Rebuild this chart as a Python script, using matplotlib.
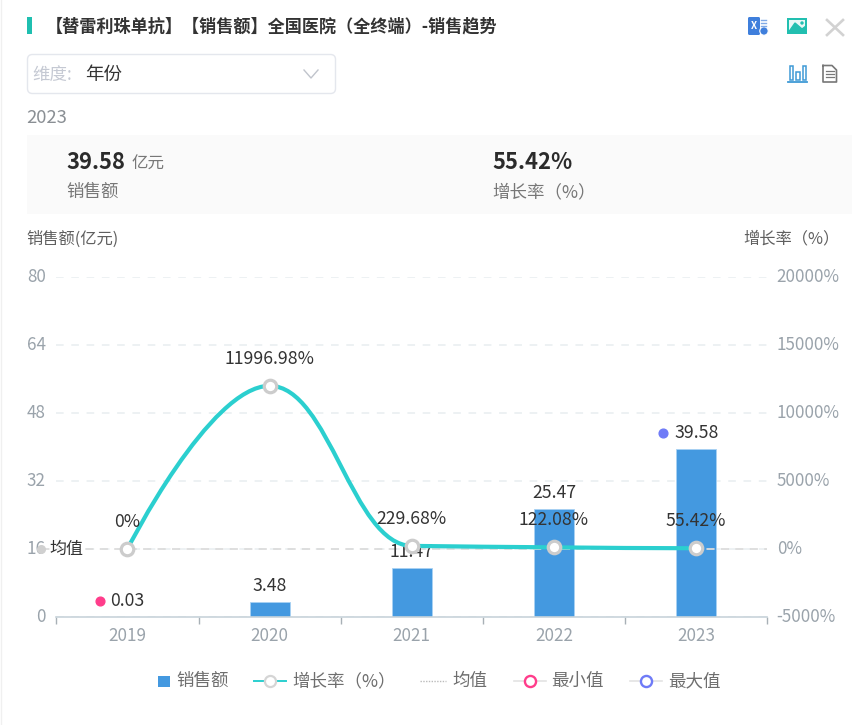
"""
Sales trend popup: bars for sales, smooth line for growth rate.
"""

import matplotlib
matplotlib.use('Agg')
import matplotlib.pyplot as plt
from matplotlib.patches import FancyBboxPatch, PathPatch, Rectangle, Circle
from matplotlib.path import Path
from matplotlib.transforms import ScaledTranslation

plt.rcParams['font.family'] = ['Noto Sans CJK SC', 'DejaVu Sans']

W, H = 866, 725

# Data
years = ['2019', '2020', '2021', '2022', '2023']
sales = [0.03, 3.48, 11.47, 25.47, 39.58]
growth = [0, 11996.98, 229.68, 122.08, 55.42]
growth_labels = ['0%', '11996.98%', '229.68%', '122.08%', '55.42%']
sales_ticks = [0, 16, 32, 48, 64, 80]
growth_ticks = [-5000, 0, 5000, 10000, 15000, 20000]

# Colors
c_bar = '#4499e0'
c_line = '#2bcfcf'
c_tick = '#9aa3ab'
c_text = '#333333'
c_legend = '#6e6e6e'
c_grid = '#e8eef0'
c_axis = '#c8d3da'
c_pink = '#ff3d8b'
c_blue = '#6f7bf7'

PX = 0.72  # px -> pt at dpi 100
FS_TICK = 17 * PX
FS_VAL = 17.7 * PX
FS_LEG = 17.5 * PX

fig = plt.figure(figsize=(W / 100, H / 100), dpi=100, facecolor='white')

# Overlay in pixel coordinates for the popup furniture
ui = fig.add_axes([0, 0, 1, 1], zorder=0)
ui.set_xlim(0, W)
ui.set_ylim(H, 0)
ui.axis('off')

ax = fig.add_axes([56.3 / W, (H - 617) / H, 711 / W, 340 / H], zorder=2)
ax.patch.set_alpha(0)
ax2 = ax.twinx()
ax2.patch.set_alpha(0)

x = list(range(len(years)))

# ---- bars on the left axis
ax.bar(x, sales, width=0.281, color=c_bar, edgecolor='#a9d2f3', linewidth=0.6, zorder=2)
ax.set_xlim(-0.5, len(years) - 0.5)
ax.set_ylim(sales_ticks[0], sales_ticks[-1])
ax.set_yticks(sales_ticks)
ax.set_xticks(x)
ax.set_xticklabels(years)
ax.set_xticks([i - 0.5 for i in range(len(years) + 1)], minor=True)
ax.tick_params(axis='x', which='major', length=0, pad=7, labelsize=FS_TICK, labelcolor=c_tick)
ax.tick_params(axis='x', which='minor', length=5, color='#a8b0b6', width=1)
ax.tick_params(axis='y', length=0, pad=7.5, labelsize=FS_TICK, labelcolor=c_tick)
ax.yaxis.grid(True, color=c_grid, linestyle=(0, (5, 5)), linewidth=1.1)
ax.set_axisbelow(True)
for s in ['top', 'left', 'right']:
    ax.spines[s].set_visible(False)
ax.spines['bottom'].set_color(c_axis)
ax.spines['bottom'].set_linewidth(1.2)

# ---- mean line, drawn out past the axis to its label
mean_sales = sum(sales) / len(sales)
ax.plot([-0.6, len(years) - 0.5], [mean_sales, mean_sales], color='#dcdcdc',
        linestyle=(0, (4.5, 3.5)), linewidth=1.3, clip_on=False, zorder=3)
ax.plot([-0.605], [mean_sales], 'o', color='#d0d0d0', ms=5.5, clip_on=False, zorder=3)
ax.annotate('均值', (-0.5, mean_sales), xytext=(-5, 0), textcoords='offset points',
            ha='left', va='center', fontsize=17 * PX, color=c_text, zorder=6,
            bbox=dict(facecolor='white', edgecolor='none', alpha=0.55, pad=0.5),
            annotation_clip=False)

# ---- growth line on the right axis, smooth beziers through the points
ax2.set_ylim(growth_ticks[0], growth_ticks[-1])
ax2.set_yticks(growth_ticks)
ax2.set_yticklabels([f'{t}%' for t in growth_ticks])
ax2.tick_params(axis='y', length=0, pad=6.8, labelsize=FS_TICK, labelcolor=c_tick)
for s in ax2.spines.values():
    s.set_visible(False)

# tick labels sit a little above their gridlines
up = ScaledTranslation(0, 2 / 100, fig.dpi_scale_trans)
for lab in ax.get_yticklabels() + ax2.get_yticklabels():
    lab.set_transform(lab.get_transform() + up)


def smooth_path(xs, ys, k=0.42):
    # monotone tangents: flat at extremes, small where one side is nearly level
    n = len(xs)
    slopes = [0.0] * n
    for i in range(1, n - 1):
        d0 = ys[i] - ys[i - 1]
        d1 = ys[i + 1] - ys[i]
        if d0 * d1 > 0:
            slopes[i] = min(abs(d0), abs(d1)) * (1 if d0 > 0 else -1)
    verts = [(xs[0], ys[0])]
    codes = [Path.MOVETO]
    for i in range(n - 1):
        # the first control point of the line stays on its start point
        c1 = (xs[i], ys[i]) if i == 0 else (xs[i] + k, ys[i] + slopes[i] * k)
        c2 = (xs[i + 1] - k, ys[i + 1] - slopes[i + 1] * k)
        verts += [c1, c2, (xs[i + 1], ys[i + 1])]
        codes += [Path.CURVE4, Path.CURVE4, Path.CURVE4]
    return Path(verts, codes)


ax2.add_patch(PathPatch(smooth_path(x, growth), facecolor='none', edgecolor=c_line,
                        linewidth=3, zorder=4))
ax2.plot(x, growth, linestyle='none', marker='o', ms=9, mfc='white', mec='#cccccc',
         mew=2.3, zorder=5)

# ---- value labels
bar_offsets = {1: 5, 2: 5, 3: 5}
for i, off in bar_offsets.items():
    ax.annotate(f'{sales[i]:.2f}', (x[i], sales[i]), xytext=(0, off), textcoords='offset points',
                ha='center', va='bottom', fontsize=FS_VAL, color=c_text, zorder=3)
for i, lab in enumerate(growth_labels):
    ax2.annotate(lab, (x[i], growth[i]), xytext=(0, 13), textcoords='offset points',
                 ha='center', va='bottom', fontsize=FS_VAL, color=c_text, zorder=7)

# min / max points sit beside the bar tops
i_min = sales.index(min(sales))
i_max = sales.index(max(sales))
ax.plot([x[i_min] - 0.19], [sales[i_min] + 3.7], 'o', color=c_pink, ms=6.3, zorder=6, clip_on=False)
ax.annotate(f'{sales[i_min]:.2f}', (x[i_min], sales[i_min] + 3.7), xytext=(0, 0),
            textcoords='offset points', ha='center', va='center', fontsize=FS_VAL, color=c_text)
ax.plot([x[i_max] - 0.23], [sales[i_max] + 3.7], 'o', color=c_blue, ms=6.3, zorder=6, clip_on=False)
ax.annotate(f'{sales[i_max]:.2f}', (x[i_max], sales[i_max] + 3.7), xytext=(0, 0),
            textcoords='offset points', ha='center', va='center', fontsize=FS_VAL, color=c_text)

# ============================================================
# Popup furniture
# ============================================================
ui.plot([0.5, 0.5], [0, H], color='#f0f0f0', linewidth=1)
ui.add_patch(Rectangle((27, 17), 5, 17, facecolor='#1fbfb0', edgecolor='none'))
ui.text(46, 26, '【替雷利珠单抗】【销售额】全国医院（全终端）-销售趋势', fontsize=17.1 * PX,
        fontweight='bold', color='#333333', va='center', ha='left')

# select box
ui.add_patch(FancyBboxPatch((27.5, 54.5), 308, 39, boxstyle='round,pad=0,rounding_size=5',
                            facecolor='white', edgecolor='#e4e7ed', linewidth=1))
ui.text(32, 75, '维度:', fontsize=17.5 * PX, color='#c5c9d3', va='center', ha='left')
ui.text(85, 75, '年份', fontsize=18.5 * PX, color='#333333', va='center', ha='left')
ui.plot([304, 311, 318], [70, 78, 70], color='#c0c4cc', linewidth=1)

ui.text(26, 118, '2023', fontsize=18.5 * PX, color='#8a8f94', va='center', ha='left')

# summary band
ui.add_patch(Rectangle((27, 135), 825, 79, facecolor='#fafafa', edgecolor='none'))
ui.text(66, 162, '39.58', fontsize=22 * PX, fontweight='bold', color='#2b2b2b', va='center', ha='left')
ui.text(131, 164, '亿元', fontsize=16.5 * PX, color='#777777', va='center', ha='left')
ui.text(66, 192, '销售额', fontsize=17.5 * PX, color='#777777', va='center', ha='left')
ui.text(492, 162, '55.42%', fontsize=22 * PX, fontweight='bold', color='#2b2b2b', va='center', ha='left')
ui.text(492, 192, '增长率（%）', fontsize=17.5 * PX, color='#777777', va='center', ha='left')

# axis titles
ui.text(26, 239, '销售额(亿元)', fontsize=16.3 * PX, color='#5f5f5f', va='center', ha='left')
ui.text(840, 239, '增长率（%）', fontsize=16.3 * PX, color='#5f5f5f', va='center', ha='right')

# toolbar icons
ui.add_patch(FancyBboxPatch((748, 17), 12, 18, boxstyle='round,pad=0,rounding_size=1.5',
                            facecolor='#3f7fdc', edgecolor='none'))
ui.text(754, 26, 'X', fontsize=7, color='white', va='center', ha='center', fontweight='bold')
for yy in [20, 23, 26]:
    ui.plot([761, 766], [yy, yy], color='#7fa9e6', linewidth=1)
ui.add_patch(Circle((764, 31), 4.2, facecolor='#3f7fdc', edgecolor='white', linewidth=0.8))
ui.add_patch(Rectangle((787, 18), 20, 16, facecolor='#22bfb0', edgecolor='none'))
ui.add_patch(Rectangle((789, 20), 16, 10, facecolor='#e8f8f6', edgecolor='none'))
ui.fill([788, 795, 802, 806, 806, 788], [33, 23, 29, 26, 33, 33], color='#22bfb0')
ui.add_patch(Circle((802, 23), 1.7, facecolor='#22bfb0', edgecolor='none'))
ui.plot([827, 843], [20, 35], color='#d2d2d2', linewidth=1.9)
ui.plot([843, 827], [20, 35], color='#d2d2d2', linewidth=1.9)
for bx, bh in [(790, 14), (796.5, 8), (803, 14)]:
    ui.add_patch(Rectangle((bx - 0.5, 79.5 - bh), 3.5, bh, facecolor='none', edgecolor='#3f9ad6', linewidth=1.1))
ui.plot([788, 807], [82, 82], color='#3f9ad6', linewidth=1.3)
ui.plot([823, 832, 836.5, 836.5, 823, 823], [65.5, 65.5, 70, 82, 82, 65.5], color='#777777', linewidth=1.2)
for ly in [71, 74, 77]:
    ui.plot([826, 834], [ly, ly], color='#777777', linewidth=0.9)

# legend, drawn by hand to keep the item spacing
ly = 681
ui.add_patch(Rectangle((158, ly - 5.5), 12, 11, facecolor=c_bar, edgecolor='none'))
ui.text(176, ly, '销售额', fontsize=FS_LEG, color=c_legend, va='center', ha='left')
ui.plot([254, 286], [ly, ly], color=c_line, linewidth=1.4)
ui.plot([270], [ly], 'o', ms=8, mfc='white', mec='#d5d5d5', mew=1.6)
ui.text(292, ly, '增长率（%）', fontsize=FS_LEG, color=c_legend, va='center', ha='left')
ui.plot([420, 446], [ly, ly], color='#bbbbbb', linewidth=1, linestyle=(0, (1, 1)))
ui.text(452, ly, '均值', fontsize=FS_LEG, color=c_legend, va='center', ha='left')
ui.plot([514, 546], [ly, ly], color='#e3e3e3', linewidth=1.2)
ui.plot([530], [ly], 'o', ms=8, mfc='white', mec=c_pink, mew=1.7)
ui.text(551, ly, '最小值', fontsize=FS_LEG, color=c_legend, va='center', ha='left')
ui.plot([630, 662], [ly, ly], color='#e3e3e3', linewidth=1.2)
ui.plot([646], [ly], 'o', ms=8, mfc='white', mec=c_blue, mew=1.7)
ui.text(668, ly, '最大值', fontsize=FS_LEG, color=c_legend, va='center', ha='left')

fig.savefig('out.png', dpi=100, facecolor='white')
